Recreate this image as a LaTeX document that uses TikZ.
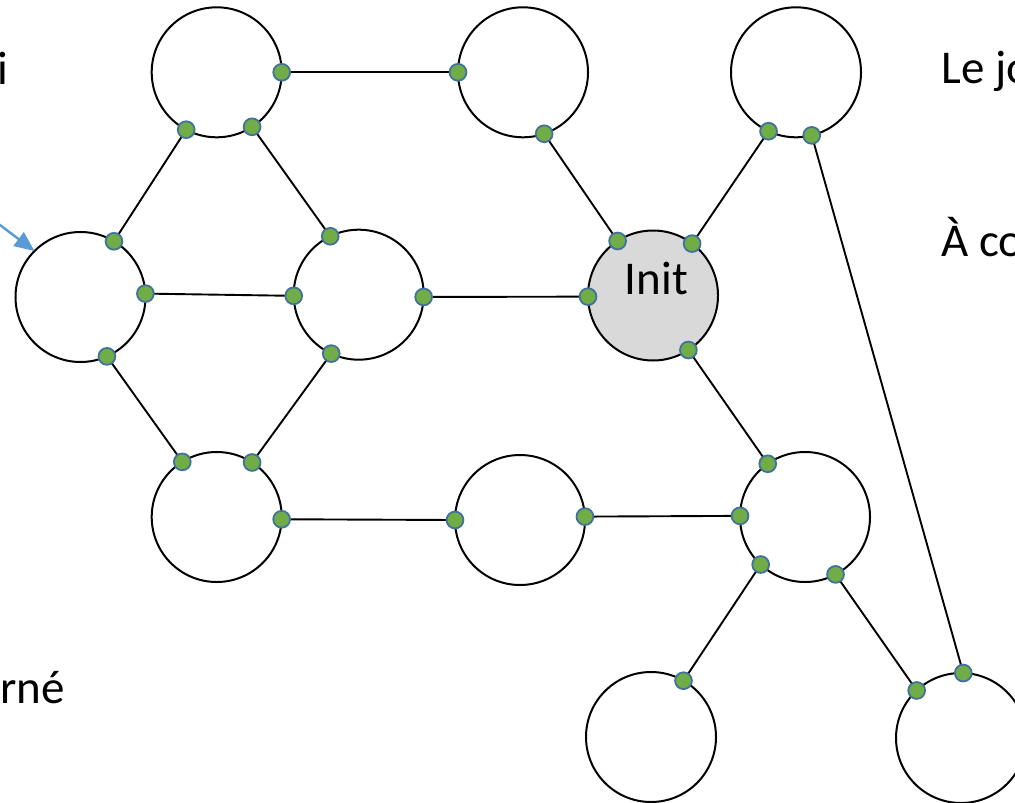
\documentclass[tikz,border=0pt]{standalone}
\usepackage{fontspec}
\setmainfont{Carlito}
\usetikzlibrary{arrows.meta}
\definecolor{dotgreen}{HTML}{70AD47}
\definecolor{dotblue}{HTML}{41719C}
\definecolor{arrblue}{HTML}{5B9BD5}
\definecolor{initgray}{HTML}{D9D9D9}
\tikzset{
  circ/.style={circle, draw=black, line width=1pt, minimum size=65pt, inner sep=0pt, outer sep=0pt, fill=white},
  link/.style={draw=black, line width=0.95pt},
  port/.style={circle, fill=dotgreen, draw=dotblue, line width=0.9pt, minimum size=8.4pt, inner sep=0pt},
  lbl/.style={font=\fontsize{23.5}{28}\selectfont, inner sep=0pt, anchor=base west}
}
\begin{document}
\begin{tikzpicture}[x=0.5pt, y=-0.5pt]
\useasboundingbox (0,0) rectangle (1015,802);
\clip (0,0) rectangle (1015,802);
% circles
\node[circ] (A) at (216.7,72.3) {};
\node[circ] (B) at (523,72.3) {};
\node[circ] (C) at (796,72.3) {};
\node[circ] (D) at (80.5,297) {};
\node[circ] (E) at (358.7,294.7) {};
\node[circ, fill=initgray] (Init) at (653,295.5) {};
\node[circ] (F) at (216.7,517) {};
\node[circ] (G) at (520,520) {};
\node[circ] (H) at (805,517) {};
\node[circ] (I) at (651,737) {};
\node[circ] (J) at (961,738) {};
\node[font=\fontsize{23.5}{28}\selectfont, inner sep=0pt, anchor=base] (initlbl) at (656.5,294) {Init};
% links
\foreach \p/\q in {A.0/B.180, A.-118/D.59, A.-57/E.116, D.3/E.181, D.-66/F.122,
  E.-2/Init.181, E.-115/F.57, B.-71/Init.123, C.-115/Init.53, C.-76/J.88,
  Init.-57/H.125, F.-2/G.180, G.3/H.179, H.-133/I.60, H.-62/J.133}{
  \draw[link] (\p) -- (\q);
  \node[port] at (\p) {};
  \node[port] at (\q) {};
}
% arrow
\coordinate (atail) at (-20,210);
\draw[arrblue, line width=1.2pt, -{Triangle[length=10pt, width=8.5pt]}] (atail) -- (D.135);
% texts
\node[lbl] (t1) at (-3,85) {i};
\node[lbl] (t2) at (941,83.3) {Le jo};
\node[lbl] (t3) at (941,256.7) {À co};
\node[lbl] (t4) at (0,703.3) {rné};
\end{tikzpicture}
\end{document}
